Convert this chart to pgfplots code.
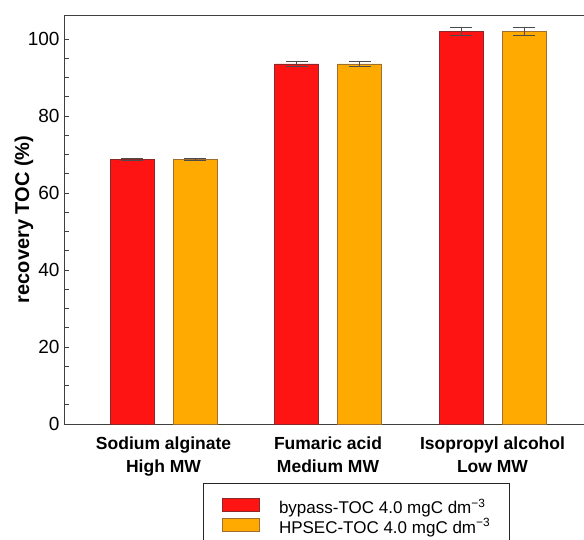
\documentclass[border=0pt]{standalone}
\usepackage{pgfplots}
\pgfplotsset{compat=1.18}
\usepackage{fontspec}
\setmainfont{Liberation Sans}

\definecolor{bypassred}{RGB}{255,20,20}
\definecolor{bypassedge}{RGB}{140,40,40}
\definecolor{hpsecorange}{RGB}{255,170,0}
\definecolor{hpsecedge}{RGB}{160,110,50}

\begin{document}
\begin{tikzpicture}
\useasboundingbox (-64pt,-115pt) rectangle (520pt,424pt);
\clip (-64pt,-115pt) rectangle (520pt,424pt);
\begin{axis}[
  scale only axis,
  width=524pt, height=409pt,
  xmin=-0.605, xmax=2.5805,
  ymin=0, ymax=106.2,
  axis x line*=box,
  axis y line*=left,
  axis line style={line width=0.9pt, black!75},
  ytick={0,20,...,100},
  minor y tick num=3,
  ytick pos=left,
  tick align=inside,
  major tick length=5pt,
  minor tick length=5pt,
  every tick/.style={black!75, line width=0.7pt},
  xtick={0,1,2},
  xtick style={draw=none},
  xticklabels={{Sodium alginate\\High MW},{Fumaric acid\\Medium MW},{Isopropyl alcohol\\Low MW}},
  xticklabel style={align=center, font=\bfseries\fontsize{17.5}{23}\selectfont, yshift=-4pt},
  yticklabel style={font=\fontsize{19}{22}\selectfont, xshift=-1pt},
  /pgf/number format/assume math mode=true,
  ylabel={recovery TOC (\%)},
  ylabel style={font=\bfseries\fontsize{20}{24}\selectfont, at={(axis description cs:-0.0763,0.5)}, anchor=center},
  ybar,
  bar width=44pt,
  legend cell align=left,
  legend image code/.code={\draw[#1, line width=0.6pt] (0pt,2pt) rectangle (37pt,15pt);},
  legend style={
    at={(axis description cs:0.2653,-0.1443)}, anchor=north west,
    draw=black!85, line width=0.8pt,
    inner xsep=19pt, inner ysep=15pt,
    font=\fontsize{17}{20}\selectfont,
    column sep=19pt, row sep=0pt,
    nodes={inner sep=0pt, text height=13pt, text depth=4pt, anchor=base west},
  },
  error bars/error bar style={line width=0.8pt, black!70},
  error bars/error mark options={rotate=90, mark size=11pt, line width=0.8pt, black!70},
]
\addplot+[bar shift=-31.5pt, fill=bypassred, draw=bypassedge, line width=0.6pt,
  error bars/.cd, y dir=both, y explicit]
  coordinates {(0,68.7) +- (0,0.15) (1,93.5) +- (0,0.7) (2,102.0) +- (0,1.0)};
\addlegendentry{bypass-TOC 4.0 mgC dm\textsuperscript{−3}}
\addplot+[bar shift=31.5pt, fill=hpsecorange, draw=hpsecedge, line width=0.6pt,
  error bars/.cd, y dir=both, y explicit]
  coordinates {(0,68.7) +- (0,0.15) (1,93.5) +- (0,0.7) (2,102.0) +- (0,1.0)};
\addlegendentry{HPSEC-TOC 4.0 mgC dm\textsuperscript{−3}}
\end{axis}
\end{tikzpicture}
\end{document}
